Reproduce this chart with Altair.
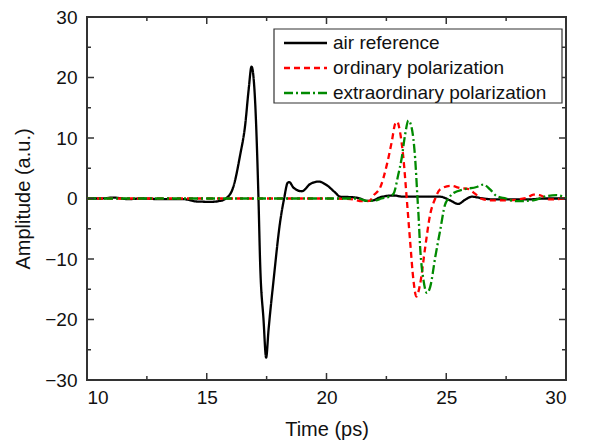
import altair as alt
import pandas as pd

# ---- data ----
air_t = [10.0, 10.6, 11.1, 11.7, 12.3, 13.0, 14.0, 14.6, 15.2, 15.55, 15.8, 16.1, 16.4, 16.6, 16.75,
         16.87, 17.02, 17.16, 17.23, 17.37, 17.48, 17.58, 17.79, 18.07, 18.23, 18.38, 18.45, 18.62,
         18.97, 19.32, 19.67, 20.01, 20.36, 20.57, 21.13, 21.4, 21.68, 21.96, 22.24, 22.8, 23.2,
         24.19, 24.74, 25.16, 25.5, 25.79, 26.06, 26.55, 26.97, 28.36, 29.2, 30.0]
air_a = [0.0, 0.0, 0.15, -0.1, 0.0, -0.1, -0.1, -0.5, -0.55, -0.4, 0.0, 1.8, 7.3, 12.0, 18.0,
         21.8, 16.0, 0.0, -10.8, -20.0, -26.3, -21.7, -13.5, -3.7, 0.0, 2.6, 2.7, 1.8,
         1.2, 2.4, 2.8, 2.2, 1.0, 0.3, 0.2, 0.0, -0.4, -0.3, 0.2, 0.5, 0.3,
         0.3, 0.3, -0.3, -0.9, -0.2, 0.3, 0.0, -0.15, -0.15, 0.0, 0.0]

ord_t = [10.0, 12.0, 14.0, 16.0, 18.0, 20.0, 21.0, 21.5, 21.8, 21.96, 22.24, 22.52, 22.73, 22.87,
         22.95, 23.07, 23.21, 23.35, 23.49, 23.63, 23.75, 23.91, 24.12, 24.33, 24.54, 24.74, 25.2,
         25.6, 25.9, 26.2, 26.45, 26.83, 27.5, 28.36, 28.64, 28.9, 29.33, 30.0]
ord_a = [0.0, 0.0, 0.0, 0.0, 0.0, 0.0, -0.1, -0.45, -0.4, 0.5, 1.8, 5.6, 9.5, 12.4,
         12.7, 11.0, 6.7, 0.0, -7.0, -13.5, -16.2, -14.1, -8.1, -2.6, 0.0, 1.5, 2.1,
         1.7, 1.6, 0.8, 0.0, -0.3, -0.3, 0.1, 0.65, 0.55, -0.15, 0.0]

ext_t = [10.0, 12.0, 14.0, 16.0, 18.0, 20.0, 21.3, 21.7, 22.0, 22.3, 22.66, 22.8, 23.0, 23.14,
         23.28, 23.42, 23.56, 23.7, 23.8, 23.84, 23.91, 24.05, 24.19, 24.33, 24.54, 24.74, 24.95,
         25.09, 25.3, 25.72, 26.27, 26.55, 26.83, 27.1, 27.5, 27.9, 28.64, 29.2, 29.6, 30.0]
ext_a = [0.0, 0.0, 0.0, 0.0, 0.0, 0.0, 0.0, -0.4, -0.35, 0.0, 0.4, 0.8, 4.0, 6.7,
         10.5, 12.9, 11.6, 6.7, 0.0, -2.6, -8.1, -13.5, -15.6, -14.6, -9.7, -5.4, -1.0,
         0.0, 0.9, 1.5, 1.9, 2.3, 1.5, 0.4, 0.0, -0.45, -0.3, 0.4, 0.55, 0.1]

series = ["air reference", "ordinary polarization", "extraordinary polarization"]
colors = ["#000000", "#ff0000", "#008a00"]
dashes = [[1, 0], [6, 4], [9, 3, 2, 3]]

x_major = [10, 15, 20, 25, 30]
x_minor = [12.5, 17.5, 22.5, 27.5]
y_major = [-30, -20, -10, 0, 10, 20, 30]
y_minor = [-25, -15, -5, 5, 15, 25]

W, H = 479, 363
FONT = "Liberation Sans"

rows = []
for name, ts, aa in zip(series, [air_t, ord_t, ext_t], [air_a, ord_a, ext_a]):
    for i, (t, a) in enumerate(zip(ts, aa)):
        rows.append({"series": name, "t": t, "a": a, "i": i})
df = pd.DataFrame(rows)

xscale = alt.Scale(domain=[10, 30], nice=False)
yscale = alt.Scale(domain=[-30, 30], nice=False)
cscale = alt.Scale(domain=series, range=colors)
dscale = alt.Scale(domain=series, range=dashes)

lines = alt.Chart(df).mark_line(strokeWidth=2.3, interpolate="monotone").encode(
    x=alt.X("t:Q", scale=xscale,
            axis=alt.Axis(values=x_major, title="Time (ps)", ticks=False, domain=False, grid=False,
                          labelPadding=8, titlePadding=12)),
    y=alt.Y("a:Q", scale=yscale,
            axis=alt.Axis(values=y_major, title="Amplitude (a.u.)", ticks=False, domain=False,
                          grid=False, labelPadding=10, titlePadding=11)),
    color=alt.Color("series:N", scale=cscale, legend=None),
    strokeDash=alt.StrokeDash("series:N", scale=dscale, legend=None),
    order="i:Q",
)

def tickdf(vals, kind):
    return pd.DataFrame({"v": vals, "kind": kind})

xt = pd.concat([tickdf(x_major, "major"), tickdf(x_minor, "minor")])
yt = pd.concat([tickdf(y_major, "major"), tickdf(y_minor, "minor")])

tick_style = dict(color="#333", strokeWidth=1.5)

def xticks(length, kind, top):
    d = xt[xt.kind == kind]
    if top:
        return alt.Chart(d).mark_rule(**tick_style).encode(
            x=alt.X("v:Q", scale=xscale), y=alt.value(0), y2=alt.value(length))
    return alt.Chart(d).mark_rule(**tick_style).encode(
        x=alt.X("v:Q", scale=xscale), y=alt.value(H), y2=alt.value(H - length))

def yticks(length, kind, right):
    d = yt[yt.kind == kind]
    if right:
        return alt.Chart(d).mark_rule(**tick_style).encode(
            y=alt.Y("v:Q", scale=yscale), x=alt.value(W), x2=alt.value(W - length))
    return alt.Chart(d).mark_rule(**tick_style).encode(
        y=alt.Y("v:Q", scale=yscale), x=alt.value(0), x2=alt.value(length))

ticks = [xticks(7, "major", False), xticks(4, "minor", False),
         xticks(7, "major", True), xticks(4, "minor", True),
         yticks(7, "major", False), yticks(4, "minor", False),
         yticks(7, "major", True), yticks(4, "minor", True)]

# ---- legend (drawn as marks, in pixel space of the plot area) ----
LEG_X0, LEG_X1, LEG_Y0, LEG_Y1 = 187, 475, 12, 86
leg_rows = [26, 51, 76]
leg_df = pd.DataFrame({"series": series, "py": leg_rows})

leg_box = alt.Chart(pd.DataFrame({"k": [0]})).mark_rect(
    fill="white", stroke="#333", strokeWidth=1.2).encode(
    x=alt.value(LEG_X0), x2=alt.value(LEG_X1), y=alt.value(LEG_Y0), y2=alt.value(LEG_Y1))

leg_lines = alt.Chart(leg_df).mark_rule(strokeWidth=2.3).encode(
    x=alt.value(197), x2=alt.value(240),
    y=alt.Y("py:Q", scale=None),
    color=alt.Color("series:N", scale=cscale, legend=None),
    strokeDash=alt.StrokeDash("series:N", scale=dscale, legend=None),
)

leg_text = alt.Chart(leg_df).mark_text(
    align="left", baseline="middle", fontSize=19, font=FONT, color="#111").encode(
    x=alt.value(246), y=alt.Y("py:Q", scale=None), text="series:N")

chart = alt.layer(lines, *ticks, leg_box, leg_lines, leg_text).properties(
    width=W, height=H,
    autosize=alt.AutoSizeParams(type="none"),
    padding={"left": 79, "top": 9, "right": 30, "bottom": 66},
).configure(font=FONT).configure_view(
    stroke="#333", strokeWidth=2
).configure_axis(
    labelFont=FONT, titleFont=FONT, labelFontSize=19, titleFontSize=20,
    labelColor="#111", titleColor="#111", titleFontWeight="normal"
)

chart.save("out.html", embed_options={"renderer": "svg", "actions": False})
